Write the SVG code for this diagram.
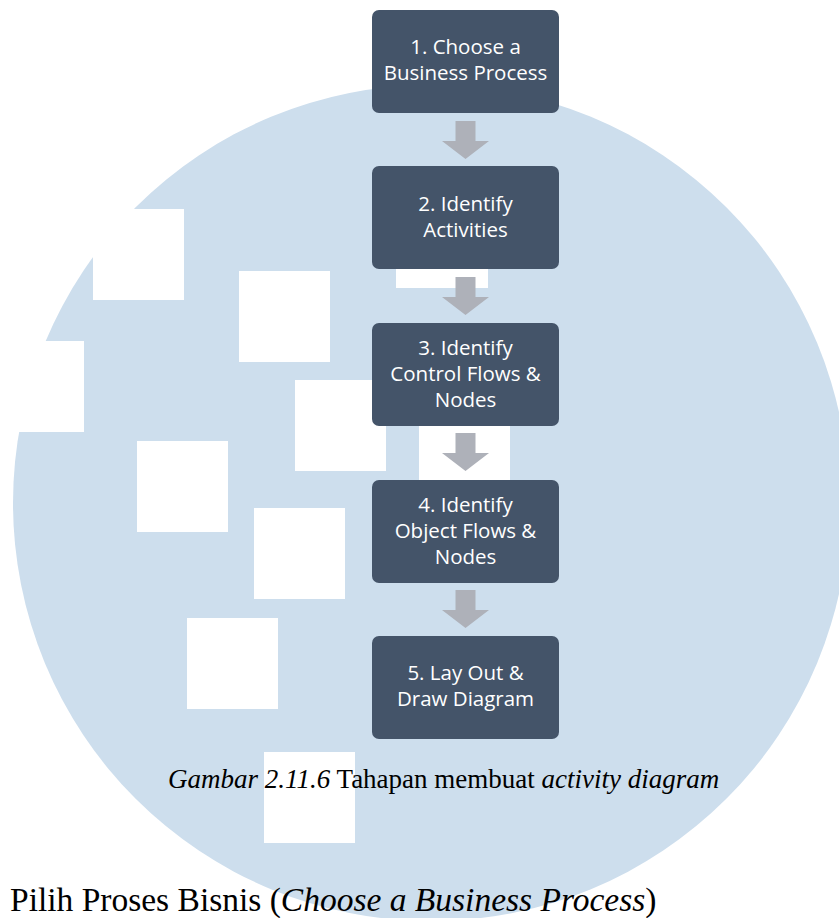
<svg xmlns="http://www.w3.org/2000/svg" width="839" height="918" viewBox="0 0 839 918">
  <style>
    .step rect { fill: #445469; }
    .step text { fill: #ffffff; font-family: "Open Sans", "Noto Sans", sans-serif; font-size: 20.5px; text-anchor: middle; }
    .arrow { fill: #aeb1b9; }
    .hole { fill: #ffffff; }
    .serif { font-family: "Liberation Serif", "Times New Roman", serif; fill: #000000; }
    .it { font-style: italic; }
  </style>
  <defs>
    <!-- block arrow pointing down, origin at top centre of the shaft -->
    <polygon id="down" points="-10,0 10,0 10,20 23.5,20 0,38 -23.5,20 -10,20"/>
  </defs>

  <!-- background disc with square cut-outs -->
  <g id="backdrop">
    <circle cx="431" cy="503" r="418" fill="#cddeed"/>
    <rect class="hole" x="93" y="209" width="91" height="91"/>
    <rect class="hole" x="239" y="271" width="91" height="91"/>
    <rect class="hole" x="-7" y="341" width="91" height="91"/>
    <rect class="hole" x="295" y="380" width="91" height="91"/>
    <rect class="hole" x="137" y="441" width="91" height="91"/>
    <rect class="hole" x="254" y="508" width="91" height="91"/>
    <rect class="hole" x="187" y="618" width="91" height="91"/>
    <rect class="hole" x="264" y="752" width="91" height="91"/>
    <rect class="hole" x="396" y="197" width="92" height="91"/>
    <rect class="hole" x="419" y="400" width="91" height="91"/>
  </g>

  <g id="connectors">
    <use href="#down" class="arrow" x="465.5" y="121"/>
    <use href="#down" class="arrow" x="465.5" y="277"/>
    <use href="#down" class="arrow" x="465.5" y="433"/>
    <use href="#down" class="arrow" x="465.5" y="590"/>
  </g>

  <g id="step1" class="step">
    <rect x="372" y="10" width="187" height="103" rx="7"/>
    <text x="465.5" y="54">1. Choose a</text>
    <text x="465.5" y="80">Business Process</text>
  </g>
  <g id="step2" class="step">
    <rect x="372" y="166" width="187" height="103" rx="7"/>
    <text x="465.5" y="211">2. Identify</text>
    <text x="465.5" y="237">Activities</text>
  </g>
  <g id="step3" class="step">
    <rect x="372" y="323" width="187" height="103" rx="7"/>
    <text x="465.5" y="355">3. Identify</text>
    <text x="465.5" y="381">Control Flows &amp;</text>
    <text x="465.5" y="407">Nodes</text>
  </g>
  <g id="step4" class="step">
    <rect x="372" y="480" width="187" height="103" rx="7"/>
    <text x="465.5" y="512">4. Identify</text>
    <text x="465.5" y="538">Object Flows &amp;</text>
    <text x="465.5" y="564">Nodes</text>
  </g>
  <g id="step5" class="step">
    <rect x="372" y="636" width="187" height="103" rx="7"/>
    <text x="465.5" y="680">5. Lay Out &amp;</text>
    <text x="465.5" y="706">Draw Diagram</text>
  </g>

  <text class="serif" x="168" y="788" font-size="27"><tspan class="it">Gambar 2.11.6</tspan> Tahapan membuat <tspan class="it">activity diagram</tspan></text>
  <text class="serif" x="10" y="911" font-size="33.5">Pilih Proses Bisnis (<tspan class="it">Choose a Business Process</tspan>)</text>
</svg>
